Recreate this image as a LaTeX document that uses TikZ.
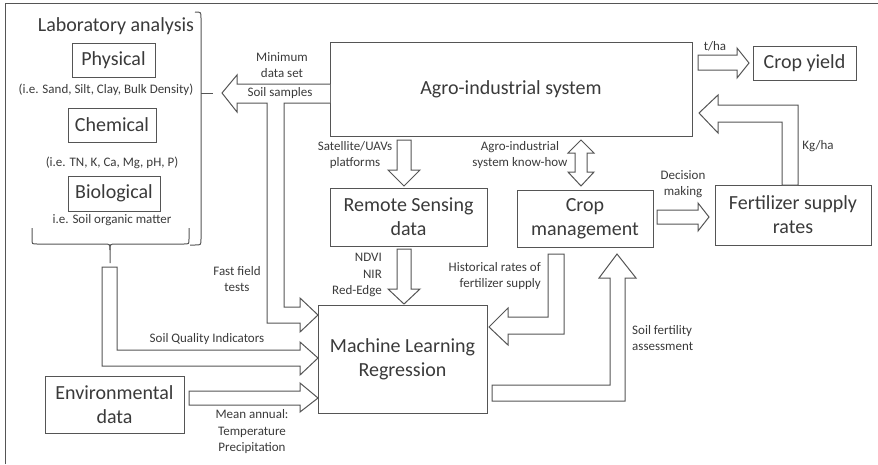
\documentclass[tikz,border=0pt]{standalone}
\usepackage{fontspec}
\setmainfont{Carlito}
\definecolor{ln}{HTML}{555555}
\definecolor{tx}{HTML}{3A3A3A}
\begin{document}
\begin{tikzpicture}[x=1pt,y=-1pt,
  every node/.style={text=tx},
  box/.style={draw=ln,line width=1pt,rectangle,inner sep=0pt,align=center,
    font=\fontsize{20}{24}\selectfont},
  lbl/.style={inner sep=0pt,align=center,font=\fontsize{13}{16.5}\selectfont},
  big/.style={inner sep=0pt,align=center,font=\fontsize{20}{24}\selectfont},
  barrow/.style={draw=ln,line width=1pt,fill=white,line join=miter},
  brace/.style={draw=ln,line width=1pt}]
\useasboundingbox (0,0) rectangle (878,464);
% frame
\draw[ln,line width=1pt] (5,464) -- (5,3) -- (878,3);

% boxes
\node[box,minimum width=83pt,minimum height=34pt] (phys) at (113.5,60) {Physical};
\node[box,minimum width=88pt,minimum height=34pt] (chem) at (112,125) {Chemical};
\node[box,minimum width=92pt,minimum height=35pt] (bio) at (114,193.5) {Biological};
\node[box,minimum width=362pt,minimum height=94pt] (agro) at (511,89) {Agro-industrial system};
\node[box,minimum width=157pt,minimum height=58pt] (rs) at (408.5,217) {Remote Sensing\\data};
\node[box,minimum width=136pt,minimum height=57pt] (cm) at (585,218.5) {Crop\\management};
\node[box,minimum width=103pt,minimum height=34pt] (yield) at (804.5,63) {Crop yield};
\node[box,minimum width=156pt,minimum height=60pt] (fert) at (793,215) {Fertilizer supply\\rates};
\node[box,minimum width=169pt,minimum height=108pt] (ml) at (402.5,359) {Machine Learning\\Regression};
\node[box,minimum width=139pt,minimum height=57pt] (env) at (114.5,404.5) {Environmental\\data};

% lab texts
\node[big] (lab) at (116,26) {Laboratory analysis};
\node[lbl] (physt) at (106,90) {(i.e. Sand, Silt, Clay, Bulk Density)};
\node[lbl] (chemt) at (112,163) {(i.e. TN, K, Ca, Mg, pH, P)};
\node[lbl] (biot) at (112,220) {i.e. Soil organic matter};

% braces
\draw[brace] (195,12) .. controls (201,12) .. (201,18) -- (201,239) .. controls (201,245) .. (195,245) -- (190,245);
\draw[brace] (201,93) -- (213,93);
\draw[brace] (32,228) -- (32,239) .. controls (32,244) .. (37,244) -- (104,244) .. controls (110,244) .. (110,250) -- (110,263);
\draw[brace] (189,228) -- (189,239) .. controls (189,244) .. (184,244) -- (116,244) .. controls (110,244) .. (110,250);

% soil samples arrow with branch to ML
\draw[barrow] (330,84) -- (237,84) -- (237,75) -- (222,93) -- (237,112) -- (237,103) -- (267,103)
  -- (267,323) -- (300,323) -- (300,332) -- (318,315) -- (300,298) -- (300,307) -- (284,307)
  -- (284,103) -- (330,103);
\node[lbl] (mds) at (282,65) {Minimum\\data set};
\node[lbl] (ss) at (280,93) {Soil samples};
\node[lbl] (fft) at (237,279) {Fast field\\tests};

% satellite arrow
\draw[barrow] (397,140) -- (397,170) -- (388,170) -- (404,186) -- (420,170) -- (411,170) -- (411,140) -- cycle;
\node[lbl] (sat) at (355,155) {Satellite/UAVs\\platforms};

% know-how double arrow
\draw[barrow] (581,140) -- (594,153) -- (587,153) -- (587,172) -- (594,172) -- (581,186) -- (568,172)
  -- (575,172) -- (575,153) -- (568,153) -- cycle;
\node[lbl] (kh) at (520,155) {Agro-industrial\\system know-how};

% t/ha arrow
\draw[barrow] (698,55) -- (737,55) -- (737,48) -- (749,63) -- (737,78) -- (737,70) -- (698,70) -- cycle;
\node[lbl] (tha) at (715,46) {t/ha};

% Kg/ha arrow
\draw[barrow] (782,185) -- (782,122) -- (718,122) -- (718,133) -- (699,113) -- (718,95) -- (718,105)
  -- (798,105) -- (798,185) -- cycle;
\node[lbl] (kgha) at (818,146) {Kg/ha};

% decision arrow
\draw[barrow] (657,210) -- (698,210) -- (698,203) -- (709,217) -- (698,231) -- (698,224) -- (657,224) -- cycle;
\node[lbl] (dm) at (683,184) {Decision\\making};

% NDVI arrow
\draw[barrow] (397,249) -- (397,289) -- (388,289) -- (404,304) -- (420,289) -- (411,289) -- (411,249) -- cycle;
\node[lbl,anchor=east,align=right] (ndvi) at (382,275) {NDVI\\NIR\\Red-Edge};

% historical rates arrow
\draw[barrow] (548,254) -- (548,317) -- (508,317) -- (508,308) -- (489,327) -- (508,345) -- (508,334)
  -- (564,334) -- (564,254) -- cycle;
\node[lbl,anchor=east,align=right] (hist) at (541,276) {Historical rates of\\fertilizer supply};

% soil fertility arrow
\draw[barrow] (492,385) -- (610,385) -- (610,278) -- (599,278) -- (617,254) -- (636,278) -- (625,278)
  -- (625,401) -- (492,401) -- cycle;
\node[lbl,anchor=west,align=left] (sfa) at (632,338) {Soil fertility\\assessment};

% soil quality indicators arrow
\draw[barrow] (102,267) -- (117,267) -- (117,350) -- (300,350) -- (300,342) -- (318,358) -- (300,375)
  -- (300,366) -- (102,366) -- cycle;
\node[lbl] (sqi) at (207,339) {Soil Quality Indicators};

% environmental arrow
\draw[barrow] (189,391) -- (300,391) -- (300,383) -- (318,398) -- (300,412) -- (300,405) -- (189,405) -- cycle;
\node[lbl] (ma) at (252,432) {Mean annual:\\Temperature\\Precipitation};
\end{tikzpicture}
\end{document}
